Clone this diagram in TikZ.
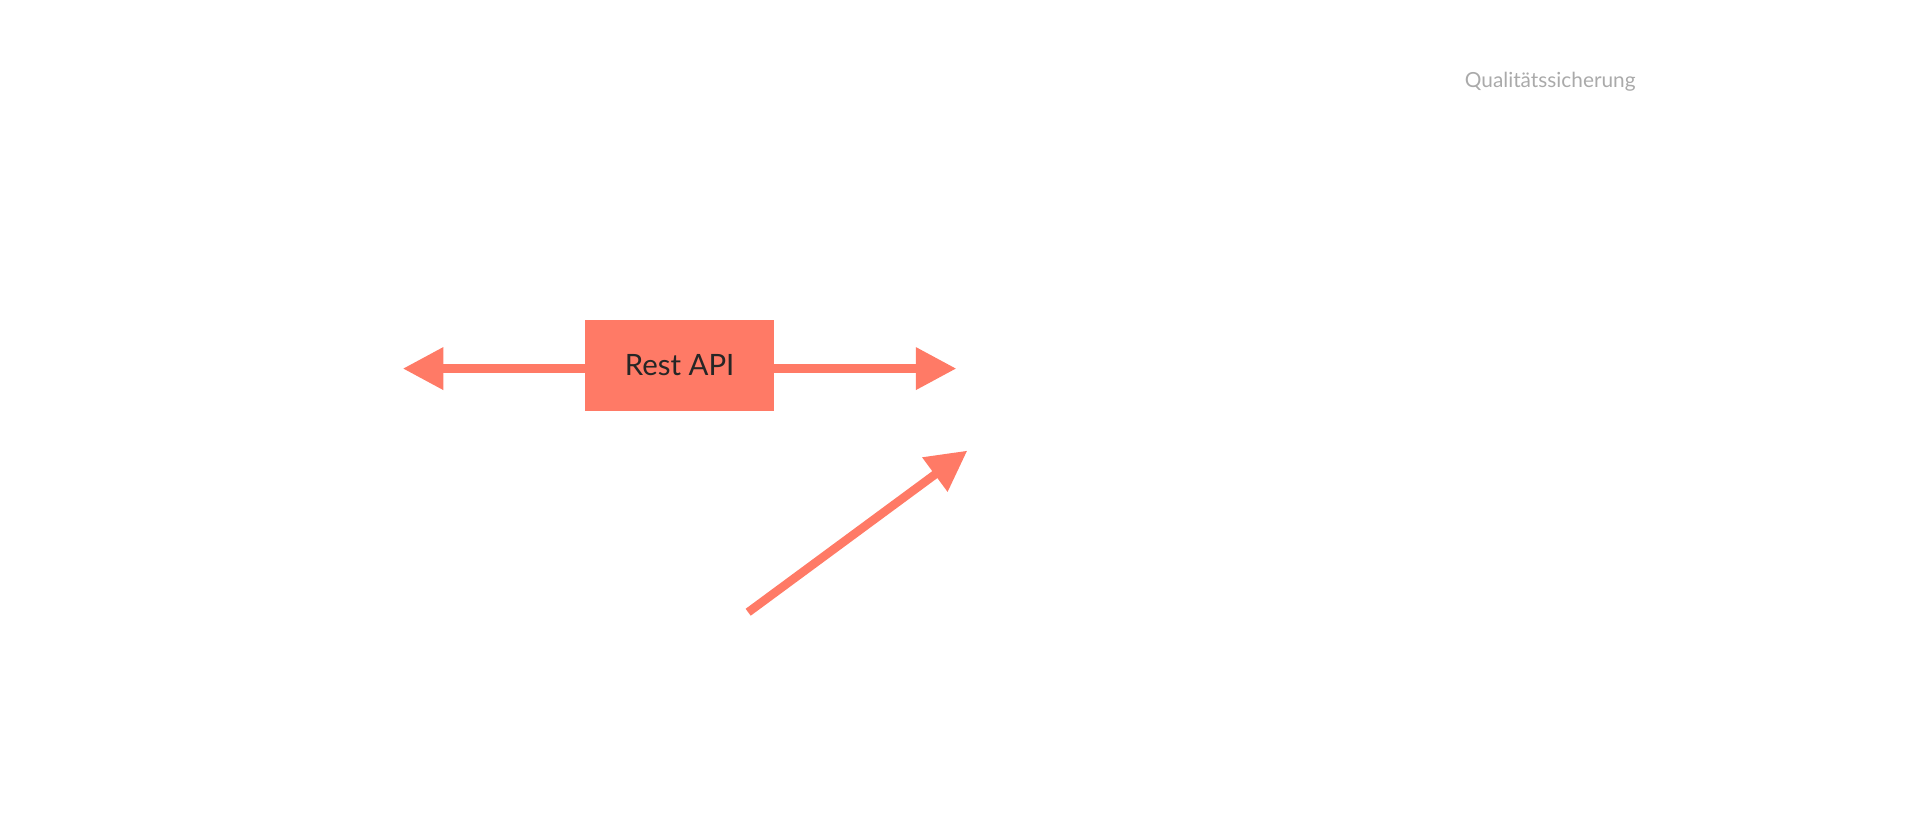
\documentclass[tikz,border=0pt]{standalone}
\usepackage{fontspec}
\setmainfont{Lato}
\usetikzlibrary{arrows.meta}
\definecolor{coral}{HTML}{FF7A66}
\definecolor{qgray}{HTML}{AAAAAA}
\begin{document}
\begin{tikzpicture}[x=1pt,y=-1pt,
  arr/.style={draw=coral,line width=7pt,-{Triangle[length=33pt,width=33pt]}}]
\useasboundingbox (0,0) rectangle (1568,673);
\node[fill=coral,minimum width=154pt,minimum height=75pt,inner sep=0pt,font=\fontsize{24}{28}\selectfont,text=black!85] (api) at (555,298.5) {Rest API};
\coordinate (l) at (329,301);
\coordinate (r) at (781,301);
\coordinate (ds) at (611,500);
\coordinate (de) at (790,368);
\draw[arr] (api.west |- l) -- (l);
\draw[arr] (api.east |- r) -- (r);
\draw[arr] (ds) -- (de);
\node[text=qgray,font=\fontsize{17}{20}\selectfont] (q) at (1266,67) {Qualitätssicherung};
\end{tikzpicture}
\end{document}
